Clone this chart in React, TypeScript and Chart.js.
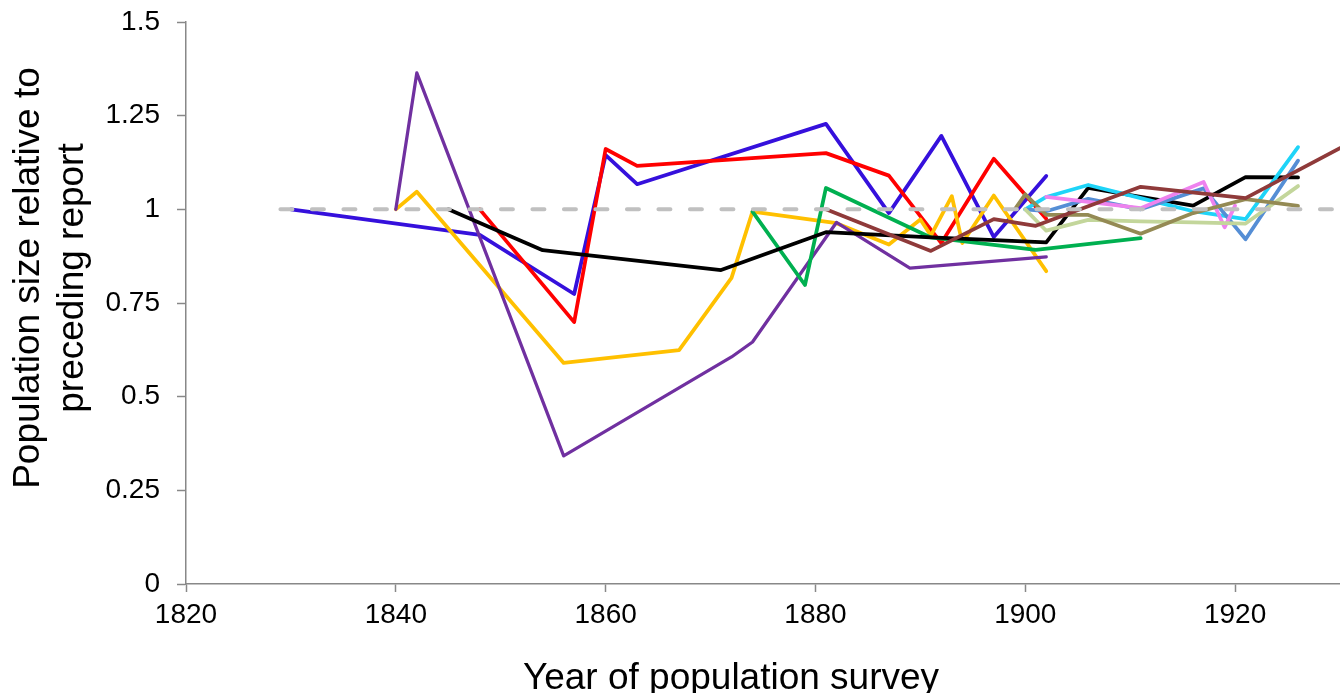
import React, { useEffect, useRef } from "react";
import { Chart, registerables } from "chart.js";

Chart.register(...registerables);

// ---- Data ----
const refYears = [1829, 1930];
const refValues = [1, 1];

const blueYears = [1830, 1848, 1857, 1860, 1863, 1881, 1887, 1892, 1897, 1902];
const blueValues = [1.0, 0.932, 0.774, 1.145, 1.067, 1.228, 0.99, 1.196, 0.926, 1.089];

const redYears = [1848, 1857, 1860, 1863, 1881, 1887, 1892, 1897, 1902];
const redValues = [1.0, 0.699, 1.161, 1.116, 1.15, 1.09, 0.91, 1.135, 0.975];

const purpleYears = [1840, 1842, 1856, 1872, 1874, 1882, 1889, 1902];
const purpleValues = [1.0, 1.364, 0.342, 0.606, 0.646, 0.965, 0.843, 0.873];

const yellowYears = [1840, 1842, 1856, 1867, 1872, 1874, 1882, 1887, 1890, 1891, 1893, 1894, 1897, 1902];
const yellowValues = [1.0, 1.047, 0.59, 0.624, 0.817, 0.994, 0.963, 0.906, 0.973, 0.93, 1.035, 0.91, 1.037, 0.835];

const blackYears = [1845, 1854, 1871, 1881, 1891, 1902, 1906, 1916, 1921, 1926];
const blackValues = [1.0, 0.891, 0.838, 0.939, 0.925, 0.912, 1.057, 1.01, 1.086, 1.085];

const greenYears = [1874, 1879, 1881, 1891, 1901, 1911];
const greenValues = [0.994, 0.798, 1.057, 0.925, 0.892, 0.923];

const brownYears = [1881, 1891, 1897, 1901, 1911, 1921, 1931];
const brownValues = [1.0, 0.889, 0.974, 0.956, 1.06, 1.03, 1.178];

const oliveYears = [1899, 1900, 1902, 1906, 1911, 1916, 1921, 1926];
const oliveValues = [1.0, 1.04, 0.985, 0.985, 0.935, 0.99, 1.027, 1.009];

const lightGreenYears = [1900, 1902, 1906, 1911, 1916, 1921, 1926];
const lightGreenValues = [1.0, 0.943, 0.972, 0.968, 0.965, 0.962, 1.062];

const cyanYears = [1900, 1902, 1906, 1911, 1916, 1921, 1926];
const cyanValues = [1.0, 1.033, 1.065, 1.03, 0.995, 0.974, 1.166];

const steelYears = [1900, 1902, 1906, 1911, 1917, 1921, 1926];
const steelValues = [1.0, 0.995, 1.028, 1.0, 1.056, 0.92, 1.13];

const pinkYears = [1902, 1911, 1917, 1919, 1920];
const pinkValues = [1.033, 1.003, 1.073, 0.952, 1.01];

const xTickValues = [1820, 1840, 1860, 1880, 1900, 1920];
const yTickValues = [0, 0.25, 0.5, 0.75, 1, 1.25, 1.5];

const xTitle = "Year of population survey";
const yTitleLines = ["Population size relative to", "preceding report"];

const FONT = "'Liberation Sans', Arial, sans-serif";

function zip(xs: number[], ys: number[]) {
  return xs.map((x, i) => ({ x, y: ys[i] }));
}

function line(label: string, xs: number[], ys: number[], color: string, width = 3.75) {
  return {
    label,
    data: zip(xs, ys),
    borderColor: color,
    backgroundColor: color,
    borderWidth: width,
    pointRadius: 0,
    pointHoverRadius: 0,
    tension: 0,
    fill: false,
    borderJoinStyle: "round" as const,
    borderCapStyle: "round" as const,
  };
}

const titlePlugin = {
  id: "customTitles",
  afterDraw(chart: any) {
    const ctx = chart.ctx as CanvasRenderingContext2D;
    ctx.save();
    ctx.fillStyle = "#000";
    ctx.font = `37px ${FONT}`;
    ctx.textAlign = "center";
    ctx.textBaseline = "alphabetic";
    ctx.fillText(xTitle, 731, 689);
    ctx.translate(0, 278);
    ctx.rotate(-Math.PI / 2);
    ctx.fillText(yTitleLines[0], 0, 39);
    ctx.fillText(yTitleLines[1], 0, 83);
    ctx.restore();
  },
};

export default function App() {
  const ref = useRef<HTMLCanvasElement | null>(null);

  useEffect(() => {
    document.body.style.margin = "0";
    const canvas = ref.current;
    if (!canvas) return;
    const chart = new Chart(canvas, {
      type: "line",
      data: {
        datasets: [
          {
            ...line("reference", refYears, refValues, "#C0C0C0", 4),
            borderDash: [12, 19.5],
          },
          line("Brown", brownYears, brownValues, "#8F3A3A"),
          line("Olive", oliveYears, oliveValues, "#948A54"),
          line("Light green", lightGreenYears, lightGreenValues, "#C3D69B"),
          line("Pink", pinkYears, pinkValues, "#EE82EE"),
          line("Steel blue", steelYears, steelValues, "#558ED5"),
          line("Cyan", cyanYears, cyanValues, "#1ED4F8"),
          line("Black", blackYears, blackValues, "#000000"),
          line("Green", greenYears, greenValues, "#00B050"),
          line("Purple", purpleYears, purpleValues, "#7030A0", 3.25),
          line("Yellow", yellowYears, yellowValues, "#FFC000"),
          line("Red", redYears, redValues, "#FF0000"),
          line("Blue", blueYears, blueValues, "#3510DC"),
        ],
      },
      options: {
        animation: false,
        responsive: false,
        maintainAspectRatio: false,
        layout: { padding: { top: 22, right: 0, left: 0, bottom: 0 } },
        plugins: {
          legend: { display: false },
          tooltip: { enabled: false },
          title: { display: false },
        },
        events: [],
        scales: {
          x: {
            type: "linear",
            min: 1820,
            max: 1930,
            afterFit(scale: any) {
              scale.height = 109;
              scale.paddingLeft = 0;
              scale.paddingRight = 0;
            },
            afterBuildTicks(scale: any) {
              scale.ticks = xTickValues.map((v) => ({ value: v }));
            },
            ticks: {
              color: "#000",
              font: { family: FONT, size: 28 },
              padding: 6,
              maxRotation: 0,
              autoSkip: false,
              callback: (v: any) => String(v),
            },
            grid: {
              drawOnChartArea: false,
              drawTicks: true,
              tickLength: 8,
              tickColor: "#888888",
              tickWidth: 1.5,
            },
            border: { display: true, color: "#888888", width: 1.5 },
            title: { display: false },
          },
          y: {
            type: "linear",
            min: 0,
            max: 1.5,
            afterFit(scale: any) {
              scale.width = 186;
              scale.paddingTop = 0;
              scale.paddingBottom = 0;
            },
            afterBuildTicks(scale: any) {
              scale.ticks = yTickValues.map((v) => ({ value: v }));
            },
            ticks: {
              color: "#000",
              font: { family: FONT, size: 28 },
              padding: 17,
              autoSkip: false,
              callback: (v: any) => String(v),
            },
            grid: {
              drawOnChartArea: false,
              drawTicks: true,
              tickLength: 9,
              tickColor: "#888888",
              tickWidth: 1.5,
            },
            border: { display: true, color: "#888888", width: 1.5 },
            title: { display: false },
          },
        },
      },
      plugins: [titlePlugin],
    });
    return () => chart.destroy();
  }, []);

  return (
    <div style={{ width: 1340, height: 693, position: "relative", background: "#fff" }}>
      <canvas ref={ref} width={1340} height={693} style={{ display: "block" }} />
    </div>
  );
}
